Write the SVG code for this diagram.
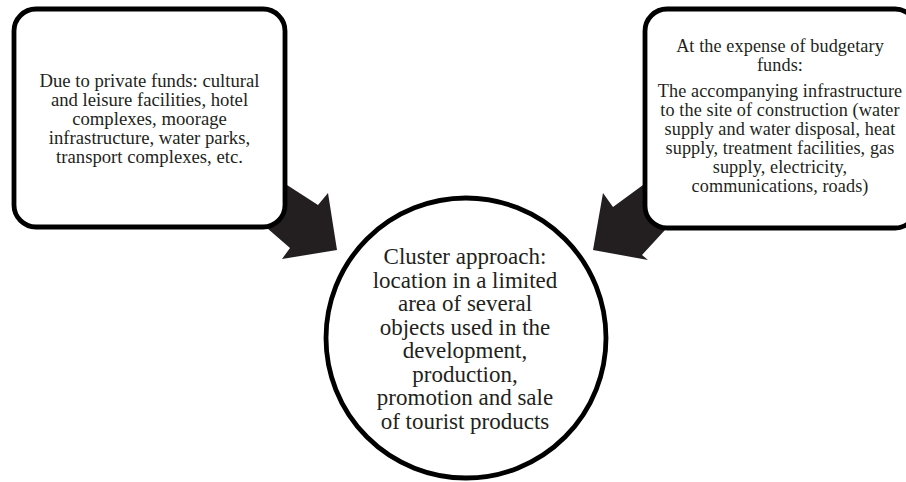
<svg xmlns="http://www.w3.org/2000/svg" width="906" height="482" viewBox="0 0 906 482">
<style>
.arrow{fill:#231f20;stroke:none}
.box{fill:#fff;stroke:#000;stroke-width:4.8}
.t{font-family:"Liberation Serif","Times New Roman",serif;fill:#231f20;text-anchor:middle}
.s{font-size:18.7px}
.r{font-size:18.2px;letter-spacing:0.1px}
.b{font-size:23px}
</style>
<rect width="906" height="482" fill="#fff"/>
<g id="connectors">
<polygon class="arrow" points="256,165 318,205 328,193 337,250 282,259 290,248 244,208"/>
<polygon class="arrow" points="673,163 613,207 603,193 593,250 648,260 642,255 688,205"/>
</g>
<g id="private-funds">
<rect class="box" x="14" y="9" width="271" height="218" rx="22"/>
<text class="t s" x="149.5" y="87">Due to private funds: cultural</text>
<text class="t s" x="149.5" y="106">and leisure facilities, hotel</text>
<text class="t s" x="149.5" y="125">complexes, moorage</text>
<text class="t s" x="149.5" y="144">infrastructure, water parks,</text>
<text class="t s" x="149.5" y="163">transport complexes, etc.</text>
</g>
<g id="budgetary-funds">
<rect class="box" x="645" y="9" width="272" height="219" rx="22"/>
<text class="t r" x="780" y="52">At the expense of budgetary</text>
<text class="t r" x="780" y="71">funds:</text>
<text class="t r" x="780" y="97">The accompanying infrastructure</text>
<text class="t r" x="780" y="116">to the site of construction (water</text>
<text class="t r" x="780" y="135">supply and water disposal, heat</text>
<text class="t r" x="780" y="154">supply, treatment facilities, gas</text>
<text class="t r" x="780" y="173">supply, electricity,</text>
<text class="t r" x="780" y="192">communications, roads)</text>
</g>
<g id="cluster-approach">
<circle class="box" cx="466" cy="338" r="140"/>
<text class="t b" x="465" y="264">Cluster approach:</text>
<text class="t b" x="465" y="287.5">location in a limited</text>
<text class="t b" x="465" y="311">area of several</text>
<text class="t b" x="465" y="334.5">objects used in the</text>
<text class="t b" x="465" y="358">development,</text>
<text class="t b" x="465" y="381.5">production,</text>
<text class="t b" x="465" y="405">promotion and sale</text>
<text class="t b" x="465" y="428.5">of tourist products</text>
</g>
</svg>
